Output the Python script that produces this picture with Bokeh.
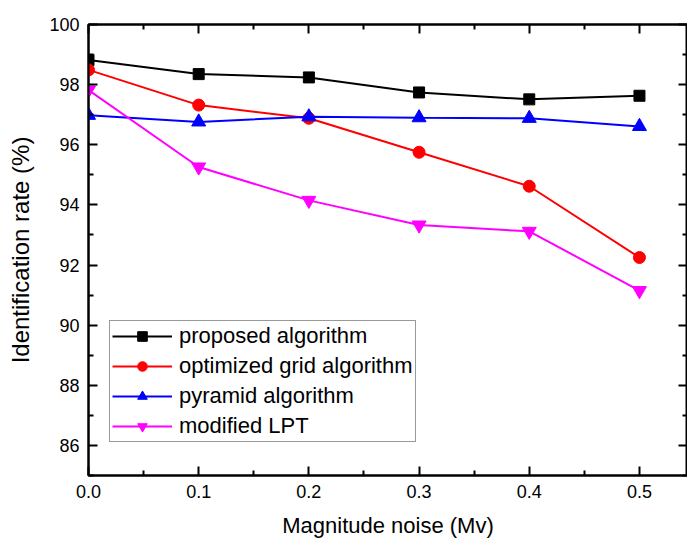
from bokeh.plotting import figure
from bokeh.models import LinearAxis, Range1d, PrintfTickFormatter, FixedTicker, CustomJSTickFormatter
from bokeh.embed import file_html
from bokeh.resources import INLINE

x = [0.0, 0.1, 0.2, 0.3, 0.4, 0.5]
proposed = [98.82, 98.35, 98.24, 97.74, 97.51, 97.63]
optimized = [98.49, 97.32, 96.88, 95.75, 94.62, 92.25]
pyramid = [96.98, 96.76, 96.93, 96.90, 96.88, 96.61]
lpt = [97.82, 95.26, 94.15, 93.33, 93.12, 91.15]

x_ticks = [0.0, 0.1, 0.2, 0.3, 0.4, 0.5]
x_minor = [0.05, 0.15, 0.25, 0.35, 0.45]
y_ticks = [86, 88, 90, 92, 94, 96, 98, 100]
y_minor = [85, 87, 89, 91, 93, 95, 97, 99]

FONT = "Liberation Sans"

p = figure(width=687, height=541, output_backend="svg", toolbar_location=None,
           x_range=Range1d(0, 0.5436), y_range=Range1d(85, 100),
           x_axis_label="Magnitude noise (Mv)", y_axis_label="Identification rate (%)",
           min_border_left=88, min_border_top=24, min_border_bottom=66, min_border_right=0)
p.xgrid.visible = False
p.ygrid.visible = False
p.outline_line_color = "black"
p.outline_line_width = 2
p.background_fill_color = "white"
p.border_fill_color = "white"

series = [
    ("proposed algorithm", proposed, "black", "square", 11),
    ("optimized grid algorithm", optimized, "#FF0000", "circle", 12),
    ("pyramid algorithm", pyramid, "#0000FF", "triangle", 14),
    ("modified LPT", lpt, "#FF00FF", "inverted_triangle", 14),
]
for name, ys, col, mk, sz in series:
    p.line(x, ys, line_color=col, line_width=2, legend_label=name)
    p.scatter(x, ys, marker=mk, size=sz, fill_color=col, line_color=col, legend_label=name)

def style(ax, labels=True):
    ax.axis_line_color = "black"
    ax.axis_line_width = 2
    ax.major_tick_in = 9
    ax.major_tick_out = 0
    ax.minor_tick_in = 5
    ax.minor_tick_out = 0
    ax.major_tick_line_width = 2
    ax.minor_tick_line_width = 2
    ax.major_tick_line_color = "black"
    ax.minor_tick_line_color = "black"
    if labels:
        ax.major_label_text_font = FONT
        ax.major_label_text_font_size = "18px"
        ax.major_label_text_color = "black"
        ax.axis_label_text_font = FONT
        ax.axis_label_text_font_size = "22px"
        ax.axis_label_text_font_style = "normal"
        ax.axis_label_text_color = "black"
    else:
        ax.formatter = CustomJSTickFormatter(code="return ''")
        ax.major_label_standoff = 0

xa = p.xaxis[0]
xa.ticker = FixedTicker(ticks=x_ticks, minor_ticks=x_minor)
xa.formatter = PrintfTickFormatter(format="%.1f")
style(xa)
xa.major_label_standoff = 9
xa.axis_label_standoff = 12

ya = p.yaxis[0]
ya.ticker = FixedTicker(ticks=y_ticks, minor_ticks=y_minor)
ya.formatter = PrintfTickFormatter(format="%d")
style(ya)
ya.major_label_standoff = 9
ya.axis_label_standoff = 12
ya.axis_label_text_font_size = "24px"

top = LinearAxis(ticker=FixedTicker(ticks=x_ticks, minor_ticks=x_minor))
style(top, labels=False)
p.add_layout(top, "above")
right = LinearAxis(ticker=FixedTicker(ticks=y_ticks, minor_ticks=y_minor))
style(right, labels=False)
p.add_layout(right, "right")

lg = p.legend[0]
lg.location = (21, 33)
lg.margin = 0
lg.padding = 2
lg.spacing = 4
lg.label_height = 24
lg.glyph_height = 24
lg.glyph_width = 60
lg.label_standoff = 7
lg.label_text_font = FONT
lg.label_text_font_size = "22px"
lg.label_text_color = "black"
lg.border_line_color = "#333333"
lg.border_line_width = 1
lg.background_fill_alpha = 1

open("out.html", "w").write(file_html(p, INLINE))
